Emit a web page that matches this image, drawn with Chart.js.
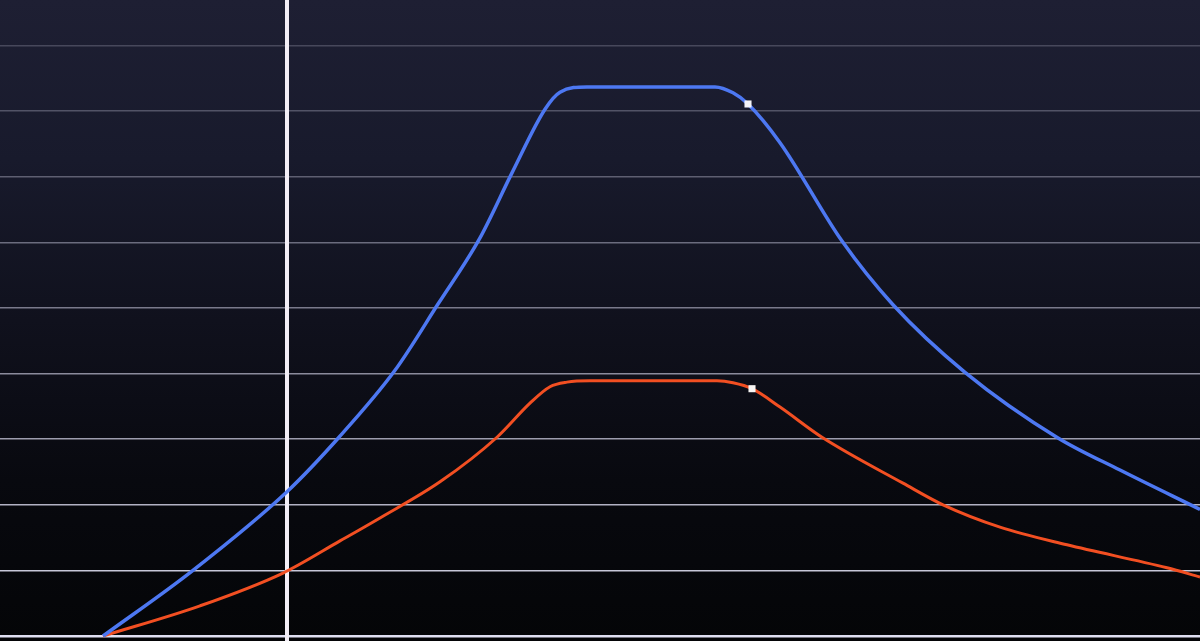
<!DOCTYPE html>
<html>
<head>
<meta charset="utf-8">
<script src="https://cdn.jsdelivr.net/npm/chart.js@4/dist/chart.umd.min.js"></script>
<style>
  html, body { margin: 0; padding: 0; width: 1200px; height: 641px; overflow: hidden; background: #0b0c14; }
  #wrap { width: 1200px; height: 641px;
    background: linear-gradient(to bottom, #1e1f33 0%, #181a2c 25%, #10111d 50%, #08090f 75%, #040507 100%); }
  canvas { display: block; }
</style>
</head>
<body>
<div id="wrap"><canvas id="c" width="1200" height="641"></canvas></div>
<script>
// ---- data (x in time units, y in value units) ----
const blueX = [10.3, 19.2, 28.7, 33.9, 39.5, 43.8, 48.0, 51.2, 54.5, 56.0, 58.7, 65.0, 71.5, 73.3, 74.8, 78.0, 84.2, 89.3, 96.5, 105.8, 112.0, 120.0];
const blueY = [0, 0.99, 2.20, 3.03, 4.05, 5.06, 6.07, 7.06, 8.03, 8.29, 8.37, 8.37, 8.37, 8.28, 8.11, 7.52, 6.02, 5.05, 4.02, 3.02, 2.53, 1.93];
const blueMarkerIndex = 14;

const redX = [10.3, 20.0, 28.3, 34.0, 38.0, 44.0, 49.7, 53.0, 55.0, 56.7, 59.0, 65.0, 71.7, 73.3, 75.2, 78.0, 82.2, 90.3, 94.3, 100.0, 106.7, 116.7, 120.0];
const redY = [0, 0.46, 0.96, 1.45, 1.80, 2.35, 3.03, 3.55, 3.80, 3.87, 3.89, 3.89, 3.89, 3.86, 3.77, 3.49, 3.03, 2.33, 2.00, 1.66, 1.39, 1.04, 0.90];
const redMarkerIndex = 14;

const cursorX = 28.7;
const yTicks = [0, 1, 2, 3, 4, 5, 6, 7, 8, 9];
const xMin = 0, xMax = 120;
const yMin = -0.076, yMax = 9.695;

const toPts = (xs, ys) => xs.map((x, i) => ({ x: x, y: ys[i] }));
const markerRadius = (n, idx) => Array.from({ length: n }, (_, i) => i === idx ? 5 : 0);

new Chart(document.getElementById('c'), {
  type: 'line',
  data: {
    datasets: [
      {
        data: toPts(blueX, blueY),
        borderColor: '#4d78f2',
        borderWidth: 3.5,
        cubicInterpolationMode: 'monotone',
        pointStyle: 'rect',
        pointRadius: markerRadius(blueX.length, blueMarkerIndex),
        pointBackgroundColor: '#f4f4f8',
        pointBorderColor: '#f4f4f8',
        pointBorderWidth: 0,
        fill: false
      },
      {
        data: toPts(redX, redY),
        borderColor: '#f24f22',
        borderWidth: 3,
        cubicInterpolationMode: 'monotone',
        pointStyle: 'rect',
        pointRadius: markerRadius(redX.length, redMarkerIndex),
        pointBackgroundColor: '#f8f6f4',
        pointBorderColor: '#f8f6f4',
        pointBorderWidth: 0,
        fill: false
      },
      {
        data: [{ x: cursorX, y: yMin }, { x: cursorX, y: yMax }],
        borderColor: '#f3eef6',
        borderWidth: 4,
        pointRadius: 0,
        fill: false
      }
    ]
  },
  options: {
    responsive: false,
    animation: false,
    devicePixelRatio: 1,
    layout: { padding: 0 },
    plugins: { legend: { display: false }, tooltip: { enabled: false } },
    events: [],
    scales: {
      x: {
        type: 'linear', min: xMin, max: xMax, display: false
      },
      y: {
        type: 'linear', min: yMin, max: yMax,
        afterBuildTicks: (scale) => { scale.ticks = yTicks.map(v => ({ value: v })); },
        ticks: { display: false },
        border: { display: false },
        grid: {
          drawTicks: false,
          lineWidth: (ctx) => ctx.tick && ctx.tick.value === 0 ? 2.5 : 1.6,
          color: (ctx) => {
            const v = ctx.tick ? ctx.tick.value : 0;
            const t = v / 9;
            const c = Math.round(235 - t * 110);
            const a = (0.95 - t * 0.5).toFixed(2);
            return `rgba(${c},${c},${Math.min(255, c + 20)},${a})`;
          }
        }
      }
    }
  }
});
</script>
</body>
</html>
